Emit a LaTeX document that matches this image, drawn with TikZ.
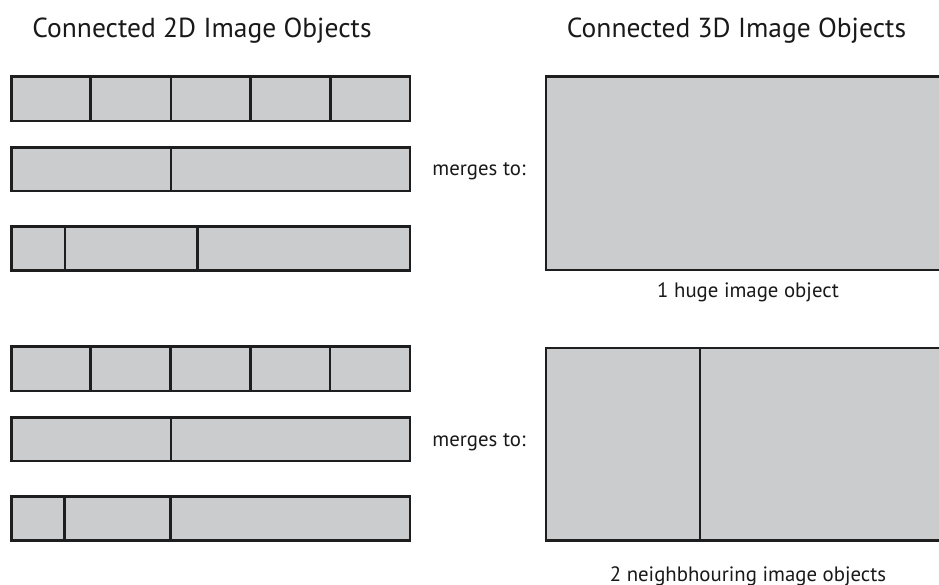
\documentclass[tikz,border=0pt]{standalone}
\usepackage{fontspec}
\setmainfont{PT Sans}
\definecolor{cellgray}{RGB}{203,204,206}
\definecolor{edgegray}{RGB}{30,30,30}
\tikzset{
  cellst/.style={draw=edgegray, fill=cellgray, line width=2.6pt, rectangle, inner sep=0pt, outer sep=0pt},
  titlest/.style={font=\fontsize{27.5}{32}\selectfont, text=black!90, inner sep=0pt},
  labelst/.style={font=\fontsize{20.8}{24}\selectfont, text=black!90, inner sep=0pt},
}
\newcommand{\mkcell}[5]{%
  \node[cellst, minimum width={(#4-#2)*1pt}, minimum height={(#5-#3)*1pt}] (#1) at ({(#2+#4)/2},{(#3+#5)/2}) {};}
\begin{document}
\begin{tikzpicture}[x=1pt,y=-1pt]
\useasboundingbox (0,0) rectangle (939,585);
\clip (0,0) rectangle (939,585);
% titles
\node[titlest, anchor=base] (t2d) at (202,37.5) {Connected 2D Image Objects};
\node[titlest, anchor=base] (t3d) at (736.5,37.5) {Connected 3D Image Objects};
% group 1 rows
\mkcell{a1}{11.7}{76.7}{90.7}{121}
\mkcell{a2}{90.7}{76.7}{171}{121}
\mkcell{a3}{171}{76.7}{250.7}{121}
\mkcell{a4}{250.7}{76.7}{330.7}{121}
\mkcell{a5}{330.7}{76.7}{410}{121}
\mkcell{b1}{11.7}{147.7}{171}{191}
\mkcell{b2}{171}{147.7}{410}{191}
\mkcell{c1}{11.7}{226.7}{65}{270.7}
\mkcell{c2}{65}{226.7}{197.3}{270.7}
\mkcell{c3}{197.3}{226.7}{410}{270.7}
% group 2 rows
\mkcell{d1}{11.7}{346.7}{90.7}{391}
\mkcell{d2}{90.7}{346.7}{170.3}{391}
\mkcell{d3}{170.3}{346.7}{250.7}{391}
\mkcell{d4}{250.7}{346.7}{330}{391}
\mkcell{d5}{330}{346.7}{410}{391}
\mkcell{e1}{11.7}{417.7}{171}{461}
\mkcell{e2}{171}{417.7}{410}{461}
\mkcell{f1}{11.7}{496.7}{64.3}{540.7}
\mkcell{f2}{64.3}{496.7}{170.3}{540.7}
\mkcell{f3}{170.3}{496.7}{410}{540.7}
% merged results
\mkcell{big}{546}{76.7}{944}{270}
\mkcell{g1}{546}{348}{700}{540.7}
\mkcell{g2}{700}{348}{944}{540.7}
% labels
\node[labelst, anchor=base] (m1) at (479,176) {merges to:};
\node[labelst, anchor=base] (m2) at (479,446) {merges to:};
\node[labelst, anchor=base] (l1) at (748,297) {1 huge image object};
\node[labelst, anchor=base] (l2) at (748,581) {2 neighbhouring image objects};
\end{tikzpicture}
\end{document}
